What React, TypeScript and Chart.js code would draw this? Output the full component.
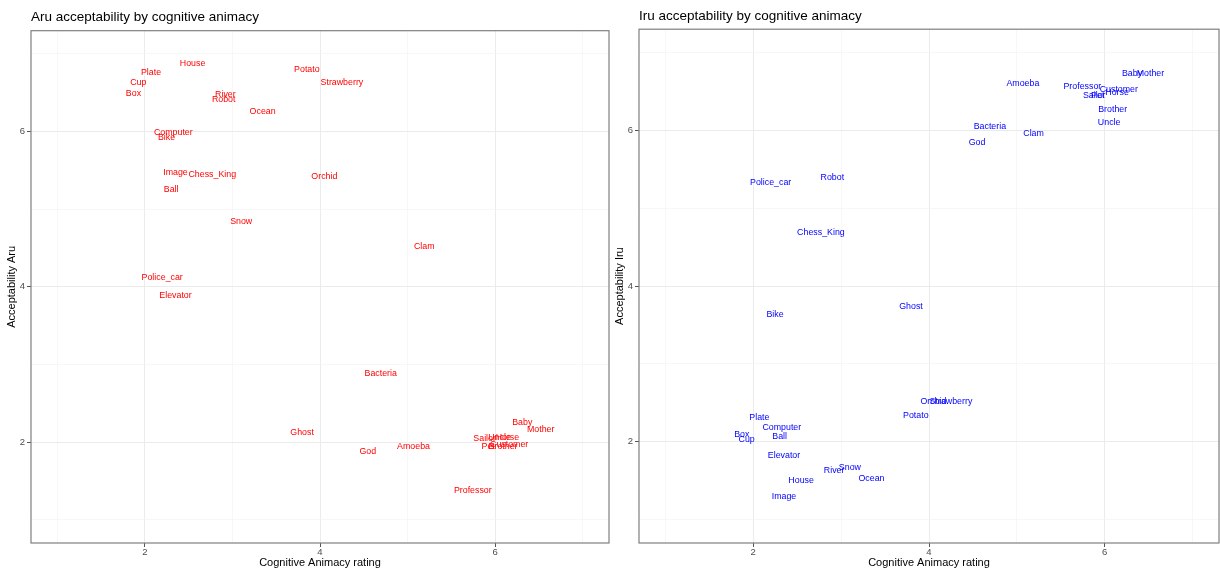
import React, { useEffect, useRef } from "react";
import { Chart, registerables } from "chart.js";

Chart.register(...registerables);

// Stimulus words and their ratings
const words = [
  "House", "Plate", "Cup", "Box", "River", "Robot", "Ocean", "Potato",
  "Strawberry", "Computer", "Bike", "Image", "Chess_King", "Orchid", "Ball",
  "Snow", "Police_car", "Elevator", "Clam", "Bacteria", "Ghost", "God",
  "Amoeba", "Baby", "Mother", "Uncle", "Horse", "Sailor", "Pet", "Brother",
  "Customer", "Professor",
];

// Cognitive animacy rating (shared x value for both panels)
const animacy = [
  2.545, 2.07, 1.925, 1.87, 2.92, 2.9, 3.345, 3.85,
  4.25, 2.325, 2.248, 2.35, 2.77, 4.05, 2.3,
  3.1, 2.198, 2.35, 5.19, 4.693, 3.795, 4.546,
  5.068, 6.31, 6.52, 6.05, 6.14, 5.88, 5.92, 6.09,
  6.16, 5.745,
];

// Acceptability of "aru"
const aruScores = [
  6.874, 6.765, 6.628, 6.494, 6.477, 6.413, 6.267, 6.796,
  6.628, 5.99, 5.926, 5.475, 5.445, 5.428, 5.256,
  4.839, 4.12, 3.884, 4.516, 2.881, 2.129, 1.88,
  1.944, 2.254, 2.159, 2.067, 2.067, 2.042, 1.94, 1.94,
  1.974, 1.377,
];

// Acceptability of "iru"
const iruScores = [
  1.5, 2.308, 2.026, 2.099, 1.637, 5.397, 1.534, 2.337,
  2.517, 2.18, 3.637, 1.295, 4.688, 2.517, 2.064,
  1.667, 5.33, 1.82, 5.96, 6.055, 3.735, 5.846,
  6.598, 6.727, 6.727, 6.098, 6.487, 6.453, 6.453, 6.265,
  6.522, 6.568,
];

const gridValues = [1, 2, 3, 4, 5, 6, 7];
const labelledTicks = [2, 4, 6];
const axisMin = 0.7;
const axisMax = 7.3;

const FONT = '"Liberation Sans", Arial, Helvetica, sans-serif';

// Draws each word centred on its point
const wordLabels = {
  id: "wordLabels",
  afterDatasetsDraw(chart: any, _args: any, opts: any) {
    const ctx = chart.ctx;
    const meta = chart.getDatasetMeta(0);
    const a = chart.chartArea;
    const squeeze = opts.squeeze;
    ctx.save();
    ctx.beginPath();
    ctx.rect(a.left, a.top, a.right - a.left, a.bottom - a.top);
    ctx.clip();
    ctx.font = `${opts.size}px ${FONT}`;
    ctx.fillStyle = opts.color;
    ctx.textAlign = "center";
    ctx.textBaseline = "middle";
    meta.data.forEach((pt: any, i: number) => {
      ctx.save();
      ctx.translate(pt.x, pt.y);
      ctx.scale(squeeze, 1);
      ctx.fillText(words[i], 0, 0);
      ctx.restore();
    });
    ctx.restore();
  },
};

// Full rectangle around the plotting panel
const panelBorder = {
  id: "panelBorder",
  afterDraw(chart: any) {
    const { ctx, chartArea: a } = chart;
    ctx.save();
    ctx.strokeStyle = "#7f7f7f";
    ctx.lineWidth = 1.2;
    ctx.strokeRect(a.left, a.top, a.right - a.left, a.bottom - a.top);
    ctx.restore();
  },
};

const isMajor = (c: any) => c.tick && labelledTicks.includes(c.tick.value);

function makeScale(title: string, horizontal: boolean, axisSize: number, titlePad: any) {
  return {
    type: "linear",
    min: axisMin,
    max: axisMax,
    afterBuildTicks: (s: any) => {
      s.ticks = gridValues.map((v) => ({ value: v }));
    },
    afterFit: (s: any) => {
      if (horizontal) s.height = axisSize;
      else s.width = axisSize;
    },
    border: { display: false },
    grid: {
      color: (c: any) => (isMajor(c) ? "#ebebeb" : "#f4f4f4"),
      lineWidth: (c: any) => (isMajor(c) ? 1 : 0.7),
      tickColor: (c: any) => (isMajor(c) ? "#555555" : "rgba(0,0,0,0)"),
      tickWidth: 1,
      tickLength: 4,
    },
    ticks: {
      autoSkip: false,
      maxRotation: 0,
      minRotation: 0,
      padding: horizontal ? 0 : 2,
      color: "#4d4d4d",
      font: { size: 9.5, family: FONT },
      callback: (v: any) => (labelledTicks.includes(v) ? String(v) : ""),
    },
    title: {
      display: true,
      text: title,
      color: "#000000",
      font: { size: 11, family: FONT },
      padding: titlePad,
    },
  };
}

interface PanelProps {
  title: string;
  yTitle: string;
  scores: number[];
  color: string;
  yAxisWidth: number;
  yTitlePad: number;
  titlePad: { top: number; bottom: number };
}

function Panel({ title, yTitle, scores, color, yAxisWidth, yTitlePad, titlePad }: PanelProps) {
  const ref = useRef<HTMLCanvasElement | null>(null);

  useEffect(() => {
    if (!ref.current) return;
    const points = animacy.map((x, i) => ({ x, y: scores[i] }));
    const chart = new Chart(ref.current, {
      type: "scatter",
      data: {
        datasets: [
          {
            data: points,
            pointRadius: 0,
            pointHoverRadius: 0,
            backgroundColor: color,
            borderColor: color,
          },
        ],
      },
      options: {
        responsive: false,
        animation: false,
        events: [],
        layout: { padding: { left: 0, right: 1, top: 0, bottom: 0 } },
        scales: {
          x: makeScale("Cognitive Animacy rating", true, 27, { top: 0, bottom: 0 }) as any,
          y: makeScale(yTitle, false, yAxisWidth, { top: yTitlePad, bottom: 0 }) as any,
        },
        plugins: {
          legend: { display: false },
          tooltip: { enabled: false },
          title: {
            display: true,
            text: title,
            align: "start",
            fullSize: false,
            color: "#000000",
            font: { size: 13.5, family: FONT, weight: "normal" },
            padding: titlePad,
          },
          wordLabels: { size: 9.5, squeeze: 0.93, color },
        } as any,
      },
      plugins: [wordLabels, panelBorder],
    });
    return () => chart.destroy();
  }, [title, yTitle, scores, color, yAxisWidth, yTitlePad, titlePad]);

  return <canvas ref={ref} width={610} height={570} style={{ display: "block" }} />;
}

const leftTitlePad = { top: 9, bottom: 5.5 };
const rightTitlePad = { top: 8.5, bottom: 4.5 };

export default function App() {
  return (
    <div
      style={{
        position: "absolute",
        left: 0,
        top: 0,
        width: 1220,
        height: 570,
        display: "flex",
        background: "#ffffff",
      }}
    >
      <Panel
        title="Aru acceptability by cognitive animacy"
        yTitle="Acceptability Aru"
        scores={aruScores}
        color="#ff0000"
        yAxisWidth={31}
        yTitlePad={5.5}
        titlePad={leftTitlePad}
      />
      <Panel
        title="Iru acceptability by cognitive animacy"
        yTitle="Acceptability Iru"
        scores={iruScores}
        color="#0000ff"
        yAxisWidth={29}
        yTitlePad={3.5}
        titlePad={rightTitlePad}
      />
    </div>
  );
}
